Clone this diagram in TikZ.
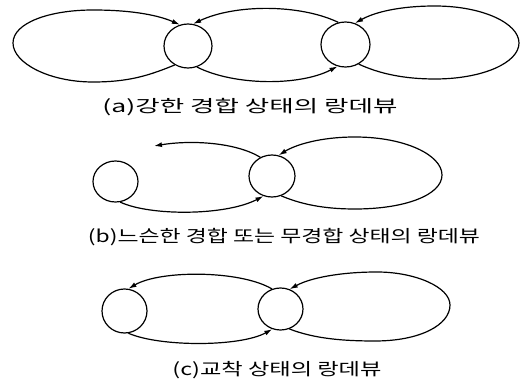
\documentclass[tikz,border=0pt]{standalone}
\usepackage{fontspec}
\usepackage{graphicx}
\newfontfamily\kr{Noto Sans CJK KR}
\usetikzlibrary{shapes.geometric,arrows.meta}
\tikzset{
  st/.style={draw, ellipse, line width=1.2pt, inner sep=0pt},
  ln/.style={line width=1.2pt},
  arr/.style={-{Latex[length=8pt,width=5pt]}},
  captext/.style={inner sep=0pt, font=\kr\fontsize{17pt}{20pt}\selectfont}
}
\begin{document}
\begin{tikzpicture}[x=1pt,y=-1pt]
\fill[white] (0,0) rectangle (523,387);
\useasboundingbox (0,0) rectangle (523,387);

% ---- (a)
\node[st, minimum width=48pt, minimum height=44pt] (a1) at (188,46) {};
\node[st, minimum width=49pt, minimum height=45pt] (a2) at (345.5,44.5) {};
\draw[ln,arr] (a1.235) .. controls (150,75) and (130,82) .. (93,82)
  .. controls (49,82) and (13,63) .. (13,43)
  .. controls (13,23) and (49,10) .. (93,10)
  .. controls (135,10) and (160,16) .. (a1.111);
\draw[ln,arr] (a2.108) .. controls (300,4) and (235,4) .. (a1.77);
\draw[ln,arr] (a1.293) .. controls (235,86) and (300,86) .. (a2.250);
\draw[ln,arr] (a2.304) .. controls (380,74) and (405,79) .. (435,79)
  .. controls (482,79) and (519,63) .. (519,43)
  .. controls (519,23) and (482,6) .. (435,6)
  .. controls (400,6) and (375,12) .. (a2.66);
\node[captext] (ca) at (250,107) {\resizebox{295pt}{\height}{(a)강한 경합 상태의 랑데뷰}};

% ---- (b)
\node[st, minimum width=45pt, minimum height=41pt] (b1) at (115.5,181.5) {};
\node[st, minimum width=46pt, minimum height=42pt] (b2) at (272,176) {};
\coordinate (bend) at (154,146);
\draw[ln,arr] (b2.122) .. controls (235,142) and (190,140) .. (bend);
\draw[ln,arr] (b1.283) .. controls (150,216) and (225,216) .. (b2.247);
\draw[ln,arr] (b2.295) .. controls (305,206) and (330,209) .. (355,209)
  .. controls (405,209) and (442,195) .. (442,175)
  .. controls (442,155) and (405,137) .. (355,137)
  .. controls (320,137) and (295,145) .. (b2.72);
\node[captext] (cb) at (284,237) {\resizebox{392pt}{\height}{(b)느슨한 경합 또는 무경합 상태의 랑데뷰}};

% ---- (c)
\node[st, minimum width=45pt, minimum height=44pt] (c1) at (124.5,311) {};
\node[st, minimum width=45pt, minimum height=42pt] (c2) at (280.5,309) {};
\draw[ln,arr] (c2.113) .. controls (240,270) and (160,270) .. (c1.80);
\draw[ln,arr] (c1.280) .. controls (160,347) and (240,347) .. (c2.248);
\draw[ln,arr] (c2.294) .. controls (315,339) and (345,341) .. (375,341)
  .. controls (420,341) and (450,325) .. (450,305)
  .. controls (450,287) and (415,272) .. (377,272)
  .. controls (340,272) and (310,278) .. (c2.65);
\node[captext] (cc) at (277,370) {\resizebox{209pt}{\height}{(c)교착 상태의 랑데뷰}};
\end{tikzpicture}
\end{document}
